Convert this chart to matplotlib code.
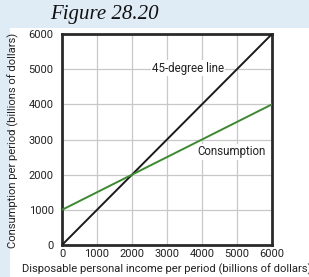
import numpy as np
import matplotlib
matplotlib.use("Agg")
import matplotlib.pyplot as plt
from matplotlib.patches import Rectangle

# Data
income = [0, 6000]
line_45 = [0, 6000]
consumption = [1000, 4000]
ticks = [0, 1000, 2000, 3000, 4000, 5000, 6000]

plt.rcParams['font.family'] = ['Roboto', 'DejaVu Sans']

W, H = 309, 277
fig = plt.figure(figsize=(W / 100, H / 100), dpi=100)
fig.patch.set_facecolor("white")

band = "#dfebf5"
# top title band and left strip
fig.patches.append(Rectangle((0, 1 - 28 / H), 1, 28 / H, transform=fig.transFigure,
                             facecolor=band, edgecolor="none", zorder=0))
fig.patches.append(Rectangle((0, 0), 10 / W, 1, transform=fig.transFigure,
                             facecolor=band, edgecolor="none", zorder=0))

ax = fig.add_axes([62 / W, (H - 245) / H, 210 / W, 211 / H])
ax.plot(income, line_45, color="#1a1a1a", lw=1.4, zorder=3)
ax.plot(income, consumption, color="#3a8a2e", lw=1.4, zorder=3)

ax.set_xlim(0, 6000)
ax.set_ylim(0, 6000)
ax.set_xticks(ticks)
ax.set_yticks(ticks)
ax.grid(True, color="#c8c8c8", lw=0.9)
ax.set_axisbelow(True)
ax.tick_params(length=0, labelsize=8, colors="#222222")
ax.tick_params(axis="x", pad=3)
ax.tick_params(axis="y", pad=6)
for s in ax.spines.values():
    s.set_linewidth(2)
    s.set_color("#2a2a2a")

ax.text(3600, 5030, "45-degree line", fontsize=8.3, color="#222222", ha="center", va="center",
        bbox=dict(facecolor="white", edgecolor="none", pad=1), zorder=2)
ax.text(4840, 2650, "Consumption", fontsize=8.3, color="#222222", ha="center", va="center",
        bbox=dict(facecolor="white", edgecolor="none", pad=1), zorder=2)

fig.text(50 / W, 1 - 14 / H, "Figure 28.20", fontsize=15, style="italic",
         family="Liberation Serif", ha="left", va="center", color="#111111")
fig.text(22 / W, 1 - 269 / H, "Disposable personal income per period (billions of dollars)",
         fontsize=8.15, ha="left", va="center", color="#222222")
fig.text(13 / W, 1 - 140 / H, "Consumption per period (billions of dollars)",
         fontsize=8.15, rotation=90, ha="center", va="center", color="#222222")

fig.savefig("out.png", dpi=100)
